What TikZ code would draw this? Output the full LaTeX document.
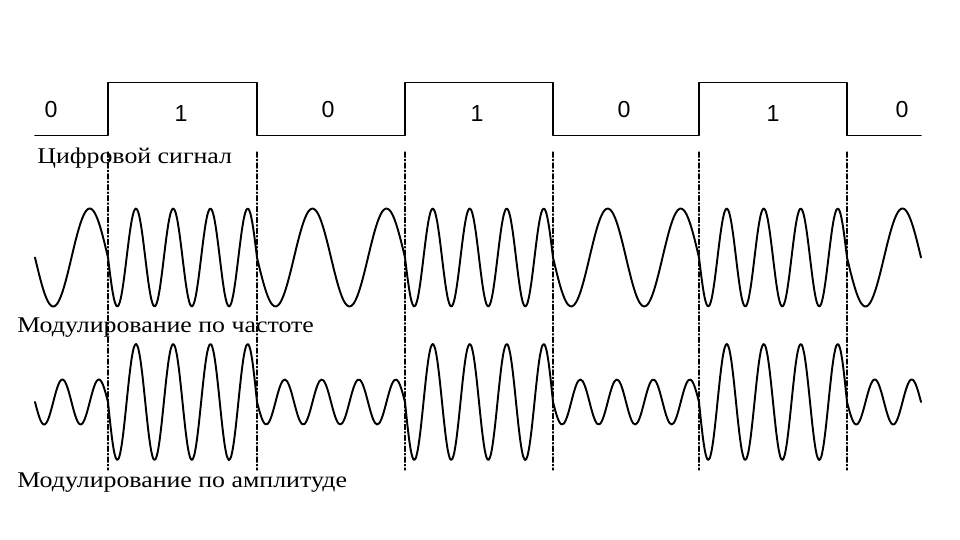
\documentclass[tikz,border=0pt]{standalone}
\usepackage{fontspec}
\setmainfont{Liberation Serif}
\newfontfamily\capfont[FakeStretch=1.15]{Liberation Serif}
\newfontfamily\bitfont{Liberation Sans}
\begin{document}
\begin{tikzpicture}[x=0.02cm, y=0.02cm, line join=round, line cap=round,
    wave/.style={line width=1.1pt},
    bound/.style={line width=0.6pt, dash pattern=on 3pt off 1.2pt on 0.8pt off 1.2pt},
    caption/.style={anchor=base west, inner sep=0pt, font=\capfont\fontsize{12.8}{14}\selectfont},
    bit/.style={anchor=base, inner sep=0pt, font=\bitfont\fontsize{13.2}{14}\selectfont}]
  \useasboundingbox (0,0) rectangle (960,540);
  % digital signal
  \draw[wave] (35,404.5) -- (108,404.5) -- (108,457.5) -- (257,457.5) -- (257,404.5)
    -- (405,404.5) -- (405,457.5) -- (553,457.5) -- (553,404.5) -- (699,404.5)
    -- (699,457.5) -- (847,457.5) -- (847,404.5) -- (921,404.5);
  \foreach \x/\b/\y in {51/0/422, 181/1/418, 328/0/422, 477/1/418, 624/0/422, 773/1/418, 902/0/422}
    \node[bit] (bit\x) at (\x,\y) {\b};
  \node[caption] (digital) at (37,376) {Цифровой сигнал};
  % bit boundaries
  \foreach \x in {108,257,405,553,699,847}
    \draw[bound] (\x,388) -- (\x,70);
  % frequency modulation
  \foreach \s/\e/\n in {35/108/1, 108/257/4, 257/405/2, 405/553/4, 553/699/2, 699/847/4, 847/921/1}
    \draw[wave] plot[domain=\s:\e, samples=70, smooth] (\x, {282.5-49*sin(360*\n/(\e-\s)*(\x-\s))});
  \node[caption] (fm) at (17,207) {Модулирование по частоте};
  % amplitude modulation
  \foreach \s/\e/\n/\a in {35/108/2/22.5, 108/257/4/58, 257/405/4/22.5, 405/553/4/58, 553/699/4/22.5, 699/847/4/58, 847/921/2/22.5}
    \draw[wave] plot[domain=\s:\e, samples=70, smooth] (\x, {138-\a*sin(360*\n/(\e-\s)*(\x-\s))});
  \node[caption] (am) at (17,52) {Модулирование по амплитуде};
\end{tikzpicture}
\end{document}
